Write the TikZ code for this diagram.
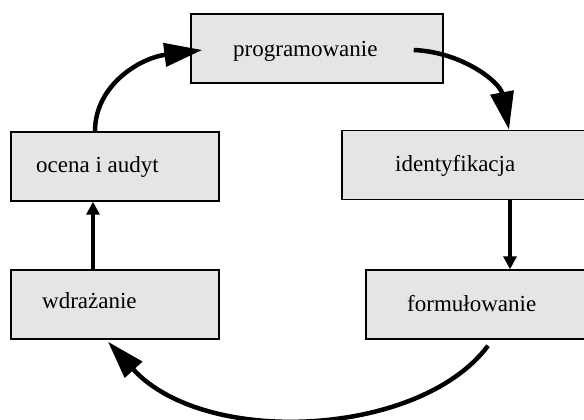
\documentclass[tikz,border=0pt]{standalone}
\usepackage{fontspec}
\setmainfont{Liberation Serif}
\usetikzlibrary{arrows.meta}
\definecolor{boxfill}{gray}{0.9}
\tikzset{
  stagebox/.style={draw=black, line width=1.4pt, fill=boxfill, rectangle,
    inner sep=0pt, minimum height=69pt},
  stagetext/.style={anchor=base west, inner sep=0pt,
    font=\fontsize{23}{27}\selectfont},
  bigarrow/.style={line width=4.5pt, -{Triangle[length=38pt,width=23pt]}},
  smallarrow/.style={line width=4pt, -{Triangle[length=13pt,width=13pt]}},
}
\begin{document}
\begin{tikzpicture}[x=1pt, y=-1pt]
  \useasboundingbox (0,0) rectangle (584,420);

  % stage boxes
  \node[stagebox, minimum width=252pt] (prog)  at (317,48.5)  {};
  \node[stagebox, minimum width=208pt] (ocena) at (115,166.5) {};
  \node[stagebox, minimum width=246pt] (ident) at (465,165)   {};
  \node[stagebox, minimum width=208pt] (wdr)   at (115,304.5) {};
  \node[stagebox, minimum width=222pt] (form)  at (477,304.5) {};

  % stage labels
  \node[stagetext] (tprog)  at (233,57)  {programowanie};
  \node[stagetext] (tocena) at (36,172)  {ocena i audyt};
  \node[stagetext] (tident) at (395,171) {identyfikacja};
  \node[stagetext] (twdr)   at (42,308)  {wdrażanie};
  \node[stagetext] (tform)  at (407,311) {formułowanie};

  % cycle connectors
  \draw[bigarrow] ([xshift=-20pt]ocena.north)
    .. controls (95,85) and (140,58) .. ([shift={(12pt,-1.5pt)}]prog.west);
  \draw[bigarrow] ([shift={(-30pt,-1.5pt)}]prog.east)
    .. controls (462,52) and (500,82) .. ([xshift=44pt]ident.north);
  \draw[smallarrow] ([xshift=45pt]ident.south) -- ([xshift=33pt]form.north);
  \draw[bigarrow] ([shift={(11pt,-6pt)}]form.south)
    .. controls (420,437) and (205,448) .. ([shift={(-7pt,-2pt)}]wdr.south);
  \draw[smallarrow] ([xshift=-22pt]wdr.north) -- ([xshift=-22pt]ocena.south);
\end{tikzpicture}
\end{document}
